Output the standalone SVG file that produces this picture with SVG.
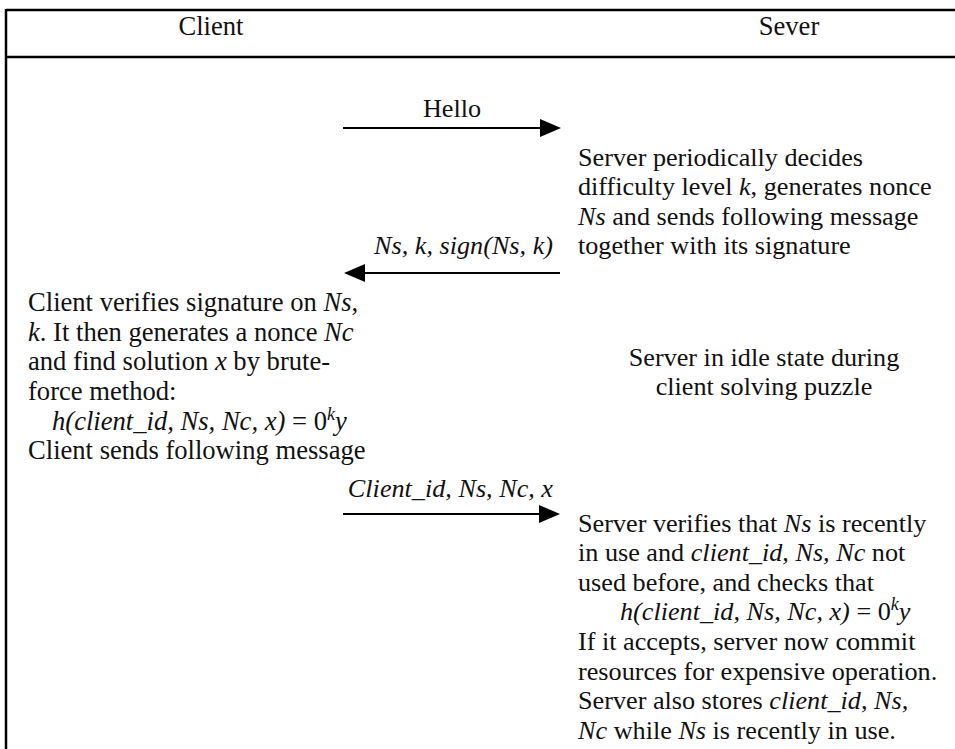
<svg xmlns="http://www.w3.org/2000/svg" width="955" height="749" viewBox="0 0 955 749" font-family="'Liberation Serif', 'Times New Roman', serif">
  <defs>
    <style>
      text { font-family: "Liberation Serif", "Times New Roman", serif; font-size: 26.6px; fill: #111; }
      .srv text, text.lbl { font-size: 26.2px; }
      .it { font-style: italic; }
      .mid { text-anchor: middle; }
      .sup { font-size: 18px; font-style: italic; }
      .frame { stroke: #000; stroke-width: 2.5; fill: none; }
      .msg { stroke: #000; stroke-width: 2; fill: none; }
      .head { fill: #000; }
    </style>
  </defs>
  <rect width="955" height="749" fill="#fff"/>

  <!-- table frame: top rule, header rule and left border -->
  <g id="frame">
    <line class="frame" x1="6" y1="10" x2="955" y2="10"/>
    <line class="frame" x1="6" y1="57" x2="955" y2="57"/>
    <line class="frame" x1="6" y1="9" x2="6" y2="749"/>
  </g>

  <g id="header-client"><text class="mid" x="211" y="35">Client</text></g>
  <g id="header-server"><text class="mid" x="789" y="35">Sever</text></g>

  <!-- message connectors with solid triangular heads -->
  <g id="connectors">
    <line class="msg" x1="343" y1="128" x2="540" y2="128"/>
    <path class="head" d="M540,119 L561,128 L540,137 z"/>
    <line class="msg" x1="365" y1="273" x2="560" y2="273"/>
    <path class="head" d="M365,264 L344,273 L365,282 z"/>
    <line class="msg" x1="343" y1="514" x2="539" y2="514"/>
    <path class="head" d="M539,505 L560,514 L539,523 z"/>
  </g>

  <g id="label-hello"><text class="mid lbl" x="452" y="117">Hello</text></g>
  <g id="label-puzzle"><text class="it lbl" x="553" y="254" text-anchor="end">Ns, k, sign(Ns, k)</text></g>
  <g id="label-solution"><text class="it lbl" x="553" y="497" text-anchor="end">Client_id, Ns, Nc, x</text></g>

  <g id="server-decides" class="srv">
    <text x="578" y="166">Server periodically decides</text>
    <text x="578" y="195">difficulty level <tspan class="it">k</tspan>, generates nonce</text>
    <text x="578" y="225"><tspan class="it">Ns</tspan> and sends following message</text>
    <text x="578" y="254">together with its signature</text>
  </g>

  <g id="client-solves">
    <text x="28" y="311">Client verifies signature on <tspan class="it">Ns</tspan>,</text>
    <text x="28" y="341"><tspan class="it">k</tspan>. It then generates  a nonce <tspan class="it">Nc</tspan></text>
    <text x="28" y="370">and find solution <tspan class="it">x</tspan> by brute-</text>
    <text x="28" y="400">force method:</text>
    <text x="52" y="430"><tspan class="it">h(client_id, Ns, Nc, x)</tspan> = 0<tspan class="sup" dy="-10">k</tspan><tspan class="it" dy="10">y</tspan></text>
    <text x="28" y="459">Client sends following message</text>
  </g>

  <g id="server-idle" class="srv">
    <text class="mid" x="764" y="366">Server in idle state during</text>
    <text class="mid" x="764" y="395">client solving puzzle</text>
  </g>

  <g id="server-verifies" class="srv">
    <text x="578" y="532">Server verifies that <tspan class="it">Ns</tspan> is recently</text>
    <text x="578" y="561">in use and <tspan class="it">client_id, Ns, Nc</tspan> not</text>
    <text x="578" y="591">used before, and checks that</text>
    <text x="620" y="620"><tspan class="it">h(client_id, Ns, Nc, x)</tspan> = 0<tspan class="sup" dy="-10">k</tspan><tspan class="it" dy="10">y</tspan></text>
    <text x="578" y="650">If it accepts, server now commit</text>
    <text x="578" y="680">resources for expensive operation.</text>
    <text x="578" y="709">Server also stores <tspan class="it">client_id, Ns,</tspan></text>
    <text x="578" y="739"><tspan class="it">Nc</tspan> while <tspan class="it">Ns</tspan> is recently in use.</text>
  </g>
</svg>
